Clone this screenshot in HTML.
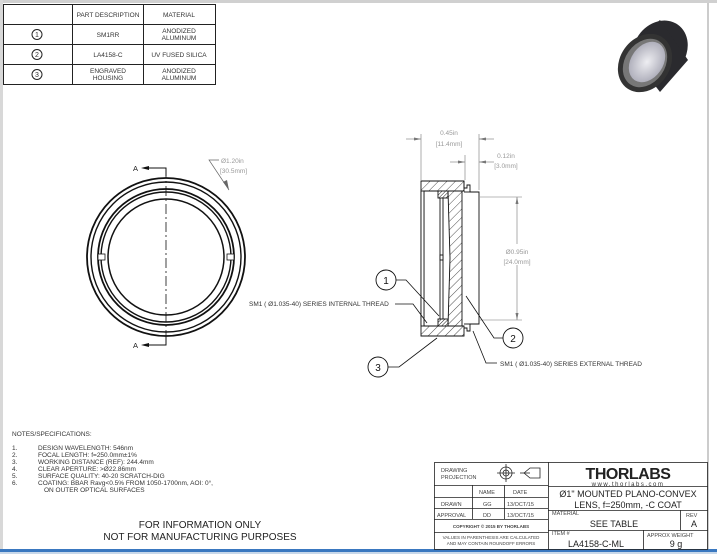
<!DOCTYPE html>
<html><head><meta charset="utf-8"><style>
html,body{margin:0;padding:0;background:#fff;}
svg{display:block;font-family:"Liberation Sans",sans-serif;}
</style></head><body>
<svg width="717" height="554" viewBox="0 0 717 554" xmlns="http://www.w3.org/2000/svg">
<defs>
<pattern id="h" width="6" height="6" patternUnits="userSpaceOnUse" patternTransform="rotate(45)"><rect width="6" height="6" fill="#fff"/><line x1="0" y1="0" x2="0" y2="6" stroke="#222" stroke-width="0.8"/></pattern>
<pattern id="h2" width="2.5" height="2.5" patternUnits="userSpaceOnUse" patternTransform="rotate(45)"><rect width="3" height="3" fill="#fff"/><line x1="0" y1="0" x2="0" y2="3" stroke="#222" stroke-width="1"/></pattern>
<radialGradient id="lg" cx="0.5" cy="0.5" r="0.5"><stop offset="0" stop-color="#eeeef2"/><stop offset="1" stop-color="#b0b0bc"/></radialGradient>
</defs>
<rect x="0" y="0" width="717" height="554" fill="#fff"/>
<rect x="0" y="0" width="717" height="3" fill="#d0d0d0"/>
<rect x="0" y="0" width="3" height="554" fill="#d8d8d8"/>
<line x1="708" y1="3" x2="708" y2="550" stroke="#999" stroke-width="1"/>
<rect x="0" y="549" width="717" height="3" fill="#3a78c0"/>
<rect x="0" y="552" width="717" height="2" fill="#c8d8ea"/>

<!-- parts table -->
<g stroke="#222" stroke-width="1" fill="none">
<rect x="3.5" y="4.5" width="212" height="80"/>
<line x1="72.5" y1="4" x2="72.5" y2="85"/><line x1="143.5" y1="4" x2="143.5" y2="85"/>
<line x1="3" y1="24.5" x2="216" y2="24.5"/><line x1="3" y1="44.5" x2="216" y2="44.5"/><line x1="3" y1="64.5" x2="216" y2="64.5"/>
<circle cx="37" cy="34.5" r="5"/><circle cx="37" cy="54.5" r="5"/><circle cx="37" cy="74.5" r="5"/>
</g>
<g font-size="6.5" fill="#333" text-anchor="middle">
<text x="108" y="17">PART DESCRIPTION</text><text x="179" y="17">MATERIAL</text>
<text x="37" y="37" font-size="7">1</text><text x="37" y="57" font-size="7">2</text><text x="37" y="77" font-size="7">3</text>
<text x="108" y="37">SM1RR</text><text x="179" y="33">ANODIZED</text><text x="179" y="40">ALUMINUM</text>
<text x="108" y="57">LA4158-C</text><text x="179" y="57">UV FUSED SILICA</text>
<text x="108" y="73">ENGRAVED</text><text x="108" y="80">HOUSING</text><text x="179" y="73">ANODIZED</text><text x="179" y="80">ALUMINUM</text>
</g>

<!-- 3D ring icon -->
<g>
<ellipse cx="660" cy="50" rx="26" ry="31" transform="rotate(35 660 50)" fill="#2a2a2e"/>
<polygon points="626,48 660,20 688,60 660,92" fill="#2a2a2e"/>
<ellipse cx="645" cy="63" rx="25" ry="31" transform="rotate(35 645 63)" fill="#333"/>
<ellipse cx="645" cy="63" rx="20" ry="26" transform="rotate(35 645 63)" fill="#777"/>
<ellipse cx="647" cy="62" rx="16" ry="22" transform="rotate(35 647 62)" fill="url(#lg)"/>
</g>

<!-- front view -->
<g stroke="#111" fill="none">
<circle cx="166" cy="257" r="79" stroke-width="1.8"/>
<circle cx="166" cy="257" r="75" stroke-width="1.4"/>
<circle cx="166" cy="257" r="68" stroke-width="1.8"/>
<circle cx="166" cy="257" r="65" stroke-width="1.4"/>
<circle cx="166" cy="257" r="58" stroke-width="1.5"/>
<rect x="98" y="254" width="7" height="6" fill="#fff" stroke-width="0.8"/>
<rect x="227" y="254" width="7" height="6" fill="#fff" stroke-width="0.8"/>
<line x1="166" y1="168" x2="166" y2="345" stroke-width="0.8" stroke-dasharray="10,3,2,3"/>
<polyline points="146,168 166,168 166,176" stroke-width="1"/>
<polyline points="146,345 166,345 166,337" stroke-width="1"/>
<polyline points="229,190 209,160 219,160" stroke="#666" stroke-width="0.7"/>
</g>
<polygon points="141,168 149,166 149,170" fill="#111"/>
<polygon points="141,345 149,343 149,347" fill="#111"/>
<polygon points="229,190 223,182 227,180" fill="#666"/>
<g font-size="7.5" fill="#222"><text x="133" y="171">A</text><text x="133" y="348">A</text></g>
<g font-size="6.5" fill="#999"><text x="221" y="163">Ø1.20in</text><text x="220" y="173">[30.5mm]</text></g>

<!-- side view -->
<g stroke="#111" stroke-width="0.9">
<path d="M421,181 H464 V191 H424 V326 H464 V336 H421 Z" fill="url(#h)"/>
<rect x="421" y="191" width="3" height="135" fill="#fff"/>
<path d="M448,191 L462,191 L462,326 L448,326 L450,258 Z" fill="url(#h)"/>
<rect x="438" y="191" width="10" height="7" fill="url(#h2)"/>
<rect x="438" y="319" width="10" height="7" fill="url(#h2)"/>
<line x1="440" y1="198" x2="440" y2="319"/><line x1="443" y1="198" x2="443" y2="319"/>
<path d="M464,181 V188 H467 V185 H470 V192 H479 V324 H470 V331 H467 V328 H464" fill="none"/>
<line x1="464" y1="192" x2="470" y2="192"/><line x1="464" y1="324" x2="470" y2="324"/>
<rect x="440" y="255" width="3" height="5" fill="#fff"/>
</g>
<!-- dims -->
<g stroke="#777" stroke-width="0.6" fill="none">
<line x1="421" y1="134" x2="421" y2="180"/><line x1="479" y1="134" x2="479" y2="190"/>
<line x1="406" y1="139" x2="421" y2="139"/><line x1="479" y1="139" x2="494" y2="139"/>
<line x1="465" y1="155" x2="465" y2="180"/>
<line x1="450" y1="162" x2="465" y2="162"/><line x1="479" y1="162" x2="494" y2="162"/>
<line x1="480" y1="197" x2="522" y2="197"/><line x1="480" y1="320" x2="522" y2="320"/>
<line x1="517" y1="197" x2="517" y2="244"/><line x1="517" y1="265" x2="517" y2="320"/>
</g>
<g fill="#777">
<polygon points="421,139 414,137.5 414,140.5"/><polygon points="479,139 486,137.5 486,140.5"/>
<polygon points="465,162 458,160.5 458,163.5"/><polygon points="479,162 486,160.5 486,163.5"/>
<polygon points="517,197 515.5,204 518.5,204"/><polygon points="517,320 515.5,313 518.5,313"/>
</g>
<g font-size="6.5" fill="#999" text-anchor="middle">
<text x="449" y="135">0.45in</text><text x="449" y="146">[11.4mm]</text>
<text x="506" y="158">0.12in</text><text x="506" y="168">[3.0mm]</text>
<text x="517" y="254">Ø0.95in</text><text x="517" y="264">[24.0mm]</text>
</g>
<!-- balloons -->
<g stroke="#111" stroke-width="0.9" fill="#fff">
<circle cx="386" cy="280" r="10"/><circle cx="513" cy="338" r="10"/><circle cx="378" cy="367" r="10"/>
</g>
<g stroke="#111" stroke-width="0.8" fill="none">
<polyline points="396,280 406,280 439,316"/>
<polyline points="503,338 494,338 466,296"/>
<polyline points="388,367 399,367 437,338"/>
<polyline points="395,304 413,304 427,323"/>
<polyline points="497,363 486,363 473,331"/>
</g>
<g font-size="10" fill="#111" text-anchor="middle"><text x="386" y="284">1</text><text x="513" y="342">2</text><text x="378" y="371">3</text></g>
<g font-size="6.5" fill="#333">
<text x="249" y="306">SM1 ( Ø1.035-40) SERIES INTERNAL THREAD</text>
<text x="500" y="366">SM1 ( Ø1.035-40) SERIES EXTERNAL THREAD</text>
</g>

<!-- notes -->
<g font-size="6.5" fill="#333">
<text x="12" y="436">NOTES/SPECIFICATIONS:</text>
<text x="12" y="450">1.</text><text x="38" y="450">DESIGN WAVELENGTH: 546nm</text>
<text x="12" y="457">2.</text><text x="38" y="457">FOCAL LENGTH: f=250.0mm±1%</text>
<text x="12" y="464">3.</text><text x="38" y="464">WORKING DISTANCE (REF): 244.4mm</text>
<text x="12" y="471">4.</text><text x="38" y="471">CLEAR APERTURE: &gt;Ø22.86mm</text>
<text x="12" y="478">5.</text><text x="38" y="478">SURFACE QUALITY: 40-20 SCRATCH-DIG</text>
<text x="12" y="485">6.</text><text x="38" y="485">COATING: BBAR Ravg&lt;0.5% FROM 1050-1700nm, AOI: 0°,</text>
<text x="44" y="492">ON OUTER OPTICAL SURFACES</text>
</g>
<g font-size="10" fill="#222" text-anchor="middle"><text x="200" y="528">FOR INFORMATION ONLY</text><text x="200" y="540">NOT FOR MANUFACTURING PURPOSES</text></g>

<!-- title block -->
<g stroke="#222" stroke-width="0.8" fill="none">
<rect x="434.5" y="462.5" width="273" height="87"/>
<line x1="548.5" y1="462" x2="548.5" y2="550"/>
<line x1="434" y1="485.5" x2="548" y2="485.5"/>
<line x1="434" y1="497.5" x2="548" y2="497.5"/>
<line x1="434" y1="508.5" x2="548" y2="508.5"/>
<line x1="434" y1="519.5" x2="548" y2="519.5"/>
<line x1="434" y1="532.5" x2="548" y2="532.5"/>
<line x1="472.5" y1="485" x2="472.5" y2="519"/><line x1="504.5" y1="485" x2="504.5" y2="519"/>
<line x1="548" y1="486.5" x2="708" y2="486.5"/>
<line x1="548" y1="510.5" x2="708" y2="510.5"/>
<line x1="548" y1="530.5" x2="708" y2="530.5"/>
<line x1="680.5" y1="510" x2="680.5" y2="530"/>
<line x1="643.5" y1="530" x2="643.5" y2="550"/>
<circle cx="506" cy="473" r="6"/><circle cx="506" cy="473" r="3"/>
<line x1="497" y1="473" x2="515" y2="473"/><line x1="506" y1="464" x2="506" y2="482"/>
<path d="M524,473 L530,468 H540 V478 H530 Z"/><line x1="520" y1="473" x2="530" y2="473"/>
</g>
<g font-size="5.5" fill="#444">
<text x="441" y="472">DRAWING</text><text x="441" y="479">PROJECTION</text>
<text x="479" y="494">NAME</text><text x="513" y="494">DATE</text>
<text x="441" y="506">DRAWN</text><text x="483" y="506">GG</text><text x="507" y="506">13/OCT/15</text>
<text x="437" y="517">APPROVAL</text><text x="483" y="517">DD</text><text x="507" y="517">13/OCT/15</text>
<text x="552" y="515">MATERIAL</text><text x="686" y="517">REV</text>
<text x="552" y="535">ITEM #</text><text x="647" y="537">APPROX WEIGHT</text>
</g>
<g font-size="4.5" fill="#444" text-anchor="middle">
<text x="491" y="528" font-weight="bold">COPYRIGHT © 2015 BY THORLABS</text>
<text x="491" y="539">VALUES IN PARENTHESIS ARE CALCULATED</text>
<text x="491" y="545">AND MAY CONTAIN ROUNDOFF ERRORS</text>
</g>
<text x="628" y="479" font-size="16" font-weight="bold" fill="#222" text-anchor="middle" letter-spacing="-0.5">THORLABS</text>
<text x="628" y="486" font-size="6" fill="#333" text-anchor="middle" letter-spacing="1.5">www.thorlabs.com</text>
<g font-size="9" fill="#222" text-anchor="middle">
<text x="628" y="497">Ø1" MOUNTED PLANO-CONVEX</text>
<text x="628" y="508">LENS, f=250mm, -C COAT</text>
<text x="614" y="527">SEE TABLE</text>
<text x="694" y="527">A</text>
<text x="596" y="547">LA4158-C-ML</text>
<text x="676" y="547">9 g</text>
</g>
</svg>
</body></html>
